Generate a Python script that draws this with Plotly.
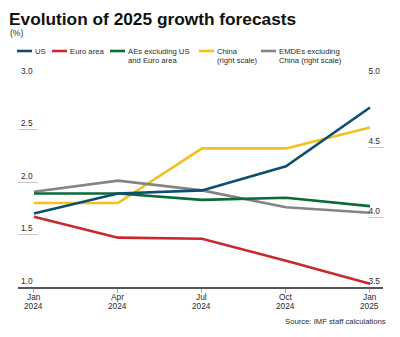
import plotly.graph_objects as go

# Forecast vintages (x axis)
months = ["Jan", "Apr", "Jul", "Oct", "Jan"]
years = ["2024", "2024", "2024", "2024", "2025"]

# 2025 growth forecasts, percent (left scale)
us = [1.70, 1.89, 1.92, 2.15, 2.71]
euro_area = [1.67, 1.47, 1.46, 1.25, 1.03]
aes_ex = [1.89, 1.89, 1.83, 1.85, 1.77]

# 2025 growth forecasts, percent (right scale)
china = [4.10, 4.10, 4.49, 4.49, 4.64]
emdes_ex_china = [4.18, 4.26, 4.19, 4.07, 4.03]

left_ticks = [1.0, 1.5, 2.0, 2.5, 3.0]
right_ticks = [3.5, 4.0, 4.5, 5.0]

C_US = "#0e4d72"
C_EA = "#c8282f"
C_AE = "#0b6b3a"
C_CN = "#f4c01c"
C_EM = "#848484"

W, H = 400, 337
ML, MR, MT, MB = 18, 17, 77, 50
PW, PH = W - ML - MR, H - MT - MB

FONT = "Liberation Sans"
TXT = "#2a2a2a"


def px(x):
    return (x - ML) / PW


def py(y):
    return (H - MB - y) / PH


xs = list(range(len(months)))

fig = go.Figure()

# right-scale series on the base axis, left-scale series drawn above them
for vals, col in [(china, C_CN), (emdes_ex_china, C_EM)]:
    fig.add_trace(go.Scatter(x=xs, y=vals, mode="lines", yaxis="y",
                             line=dict(color=col, width=2.6),
                             showlegend=False, hoverinfo="skip",
                             cliponaxis=False))
for vals, col in [(aes_ex, C_AE), (euro_area, C_EA), (us, C_US)]:
    fig.add_trace(go.Scatter(x=xs, y=vals, mode="lines", yaxis="y2",
                             line=dict(color=col, width=2.6),
                             showlegend=False, hoverinfo="skip",
                             cliponaxis=False))

tick_style = dict(
    showgrid=False, zeroline=False, showline=False,
    ticks="inside", tickcolor="#c4c4c4", tickwidth=1,
    ticklabelposition="inside top", ticklabeloverflow="allow",
    tickfont=dict(size=8.3, color=TXT),
)

fig.update_layout(
    width=W, height=H,
    margin=dict(l=ML, r=MR, t=MT, b=MB),
    paper_bgcolor="white", plot_bgcolor="white",
    font=dict(family=FONT, size=8.3, color=TXT),
    xaxis=dict(
        range=[-0.19, 4.155], tickvals=xs, showticklabels=False,
        showgrid=False, zeroline=False,
        showline=True, linecolor="#555555", linewidth=1.5,
        ticks="outside", ticklen=4, tickcolor="#aaaaaa", tickwidth=1,
    ),
    yaxis=dict(
        side="right", range=[right_ticks[0], right_ticks[-1]],
        tickvals=right_ticks, ticktext=[f"{v:.1f}" for v in right_ticks],
        ticklen=14, **tick_style,
    ),
    yaxis2=dict(
        side="left", overlaying="y", range=[left_ticks[0], left_ticks[-1]],
        tickvals=left_ticks, ticktext=[f"{v:.1f}" for v in left_ticks],
        ticklen=20, **tick_style,
    ),
)

annotations = [
    dict(text="<b>Evolution of 2025 growth forecasts</b>", x=px(7), y=py(19),
         xanchor="left", yanchor="middle",
         font=dict(size=17.3, color="#111111")),
    dict(text="(%)", x=px(8), y=py(33), xanchor="left", yanchor="middle",
         font=dict(size=8.5, color=TXT)),
    dict(text="Source: IMF staff calculations", x=px(388), y=py(321),
         xanchor="right", yanchor="middle", font=dict(size=7.7, color=TXT)),
]

# x tick labels: month over year, tightly stacked
for i, (m, yr) in enumerate(zip(months, years)):
    annotations.append(dict(text=m, x=i, xref="x", y=py(296.5), yref="paper",
                            xanchor="center", yanchor="middle",
                            font=dict(size=8.3, color=TXT)))
    annotations.append(dict(text=yr, x=i, xref="x", y=py(305.5), yref="paper",
                            xanchor="center", yanchor="middle",
                            font=dict(size=8.3, color=TXT)))

# legend: short swatch + one or two label lines
legend_items = [
    (["US"], C_US, 17),
    (["Euro area"], C_EA, 52),
    (["AEs excluding US", "and Euro area"], C_AE, 110),
    (["China", "(right scale)"], C_CN, 199),
    (["EMDEs excluding", "China (right scale)"], C_EM, 261),
]
shapes = []
for lines, col, x0 in legend_items:
    shapes.append(dict(type="line", xref="paper", yref="paper",
                       x0=px(x0), x1=px(x0 + 15), y0=py(51), y1=py(51),
                       line=dict(color=col, width=2.6)))
    for k, line in enumerate(lines):
        annotations.append(dict(text=line, x=px(x0 + 16), y=py(51 + 9 * k),
                                xanchor="left", yanchor="middle", align="left",
                                font=dict(size=7.7, color=TXT)))

for a in annotations:
    a.setdefault("xref", "paper")
    a.setdefault("yref", "paper")
    a["showarrow"] = False

fig.update_layout(annotations=annotations, shapes=shapes)

fig.write_html("out.html")
